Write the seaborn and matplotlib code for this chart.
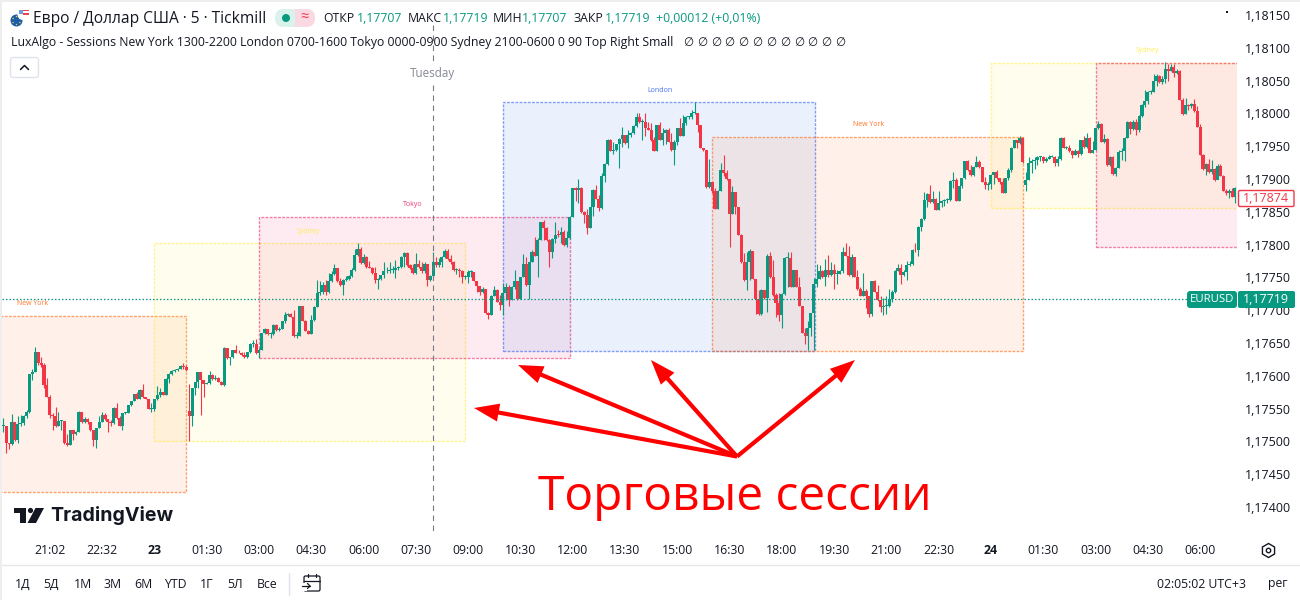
import matplotlib
matplotlib.use('Agg')
import matplotlib.pyplot as plt
from matplotlib.colors import to_rgba
from matplotlib.patches import Circle, FancyBboxPatch, Polygon, Rectangle, RegularPolygon, Wedge
import pandas as pd
import seaborn as sns

# ==========================================
# DATA - EURUSD 5m, prices as points: 17707 = 1,17707
# ==========================================
bar_close = [
    17523, 17497, 17496, 17530, 17502, 17527, 17528, 17538, 17545, 17603,
    17606, 17637, 17619, 17616, 17586, 17568, 17540, 17539, 17523, 17531,
    17531, 17497, 17494, 17518, 17511, 17515, 17545, 17529, 17534, 17529,
    17517, 17502, 17520, 17530, 17541, 17534, 17529, 17528, 17551, 17535,
    17524, 17543, 17544, 17555, 17561, 17572, 17565, 17579, 17567, 17565,
    17549, 17550, 17564, 17570, 17575, 17571, 17595, 17603, 17607, 17609,
    17611, 17615, 17614, 17609, 17539, 17581, 17590, 17606, 17594, 17588,
    17589, 17601, 17595, 17597, 17590, 17586, 17643, 17627, 17628, 17639,
    17635, 17634, 17631, 17628, 17636, 17648, 17648, 17634, 17640, 17665,
    17671, 17663, 17663, 17677, 17670, 17672, 17684, 17693, 17694, 17690,
    17660, 17661, 17706, 17684, 17669, 17664, 17685, 17705, 17726, 17727,
    17738, 17727, 17745, 17755, 17764, 17745, 17738, 17746, 17747, 17752,
    17761, 17784, 17793, 17772, 17781, 17766, 17765, 17756, 17746, 17747,
    17753, 17759, 17760, 17761, 17762, 17764, 17766, 17781, 17787, 17769,
    17764, 17756, 17771, 17766, 17759, 17770, 17746, 17752, 17774, 17769,
    17774, 17781, 17790, 17778, 17774, 17761, 17761, 17760, 17750, 17750,
    17758, 17758, 17745, 17737, 17727, 17733, 17695, 17693, 17722, 17731,
    17713, 17708, 17726, 17736, 17716, 17736, 17744, 17717, 17751, 17771,
    17738, 17773, 17788, 17783, 17807, 17834, 17825, 17807, 17789, 17808,
    17815, 17814, 17819, 17799, 17810, 17842, 17886, 17883, 17887, 17849,
    17845, 17826, 17857, 17883, 17870, 17856, 17904, 17923, 17960, 17943,
    17944, 17953, 17961, 17967, 17955, 17967, 17970, 17981, 17995, 17987,
    17987, 17977, 17975, 17959, 17943, 17982, 17960, 17970, 17974, 17957,
    17944, 17957, 17977, 17966, 17986, 17994, 17994, 18000, 18000, 17982,
    17948, 17944, 17888, 17896, 17882, 17855, 17882, 17914, 17909, 17900,
    17847, 17880, 17857, 17815, 17773, 17746, 17773, 17790, 17748, 17717,
    17694, 17731, 17718, 17782, 17750, 17723, 17711, 17693, 17725, 17779,
    17780, 17736, 17761, 17736, 17707, 17666, 17660, 17673, 17695, 17740,
    17747, 17759, 17750, 17761, 17753, 17761, 17755, 17755, 17759, 17789,
    17783, 17753, 17781, 17751, 17732, 17722, 17729, 17721, 17694, 17745,
    17728, 17715, 17705, 17707, 17707, 17717, 17727, 17760, 17764, 17753,
    17758, 17769, 17770, 17792, 17791, 17827, 17839, 17868, 17877, 17865,
    17870, 17853, 17863, 17866, 17868, 17868, 17897, 17898, 17867, 17889,
    17901, 17927, 17913, 17906, 17919, 17926, 17918, 17896, 17891, 17892,
    17906, 17910, 17901, 17895, 17879, 17901, 17913, 17948, 17959, 17955,
    17963, 17926, 17899, 17925, 17927, 17929, 17933, 17934, 17927, 17931,
    17933, 17934, 17925, 17931, 17963, 17948, 17948, 17942, 17937, 17942,
    17938, 17959, 17949, 17963, 17940, 17944, 17977, 17984, 17957, 17961,
    17921, 17934, 17908, 17917, 17941, 17943, 17963, 17987, 17976, 17987,
    17974, 17996, 18013, 18019, 18033, 18033, 18049, 18057, 18048, 18052,
    18068, 18065, 18071, 18061, 18065, 18021, 17999, 18013, 18012, 18014,
    18003, 17980, 17937, 17915, 17923, 17910, 17915, 17898, 17920, 17905,
    17882, 17879, 17882, 17873, 17887,
]
bar_high = [
    17535, 17523, 17497, 17542, 17530, 17539, 17540, 17540, 17548, 17603,
    17611, 17644, 17637, 17629, 17619, 17596, 17571, 17544, 17552, 17545,
    17532, 17531, 17511, 17518, 17518, 17516, 17546, 17545, 17537, 17535,
    17530, 17517, 17521, 17538, 17545, 17543, 17534, 17533, 17552, 17558,
    17538, 17544, 17545, 17555, 17562, 17572, 17576, 17580, 17588, 17568,
    17565, 17558, 17565, 17585, 17581, 17576, 17596, 17604, 17609, 17610,
    17612, 17616, 17619, 17616, 17588, 17582, 17591, 17606, 17606, 17594,
    17590, 17607, 17603, 17601, 17598, 17592, 17644, 17643, 17629, 17639,
    17647, 17639, 17637, 17637, 17637, 17650, 17654, 17656, 17642, 17666,
    17673, 17672, 17667, 17679, 17679, 17674, 17684, 17698, 17695, 17695,
    17700, 17667, 17707, 17706, 17685, 17670, 17693, 17706, 17746, 17744,
    17743, 17746, 17756, 17759, 17770, 17765, 17749, 17747, 17752, 17753,
    17765, 17794, 17802, 17797, 17786, 17782, 17775, 17766, 17766, 17749,
    17754, 17773, 17766, 17774, 17767, 17777, 17767, 17783, 17788, 17788,
    17771, 17771, 17787, 17777, 17774, 17774, 17770, 17754, 17789, 17781,
    17779, 17782, 17794, 17793, 17784, 17775, 17764, 17764, 17762, 17754,
    17761, 17761, 17758, 17745, 17737, 17735, 17732, 17698, 17723, 17737,
    17732, 17723, 17741, 17741, 17739, 17737, 17761, 17744, 17751, 17786,
    17781, 17774, 17792, 17811, 17810, 17835, 17837, 17827, 17808, 17810,
    17834, 17822, 17827, 17822, 17820, 17843, 17887, 17888, 17900, 17888,
    17851, 17855, 17858, 17884, 17891, 17876, 17909, 17924, 17961, 17961,
    17957, 17954, 17962, 17980, 17967, 17975, 17972, 17982, 18000, 18000,
    17991, 18000, 17987, 17986, 17964, 17983, 17987, 17977, 17976, 17977,
    17970, 17960, 17978, 17993, 17998, 17996, 17996, 18005, 18018, 18000,
    17982, 17948, 17944, 17931, 17896, 17886, 17883, 17925, 17937, 17914,
    17900, 17890, 17880, 17857, 17816, 17787, 17789, 17793, 17790, 17748,
    17731, 17732, 17731, 17786, 17789, 17777, 17726, 17726, 17726, 17781,
    17788, 17788, 17762, 17762, 17751, 17707, 17673, 17683, 17696, 17749,
    17770, 17769, 17761, 17778, 17784, 17774, 17771, 17762, 17761, 17796,
    17802, 17798, 17785, 17781, 17761, 17735, 17756, 17732, 17722, 17745,
    17746, 17738, 17721, 17718, 17721, 17732, 17731, 17761, 17771, 17771,
    17761, 17775, 17775, 17793, 17802, 17828, 17840, 17880, 17879, 17891,
    17882, 17871, 17882, 17868, 17870, 17871, 17898, 17911, 17901, 17890,
    17902, 17928, 17929, 17921, 17920, 17935, 17929, 17919, 17903, 17896,
    17907, 17911, 17914, 17902, 17902, 17902, 17916, 17949, 17960, 17960,
    17965, 17964, 17911, 17934, 17931, 17934, 17935, 17935, 17935, 17933,
    17936, 17936, 17935, 17935, 17964, 17964, 17951, 17952, 17944, 17945,
    17944, 17960, 17965, 17970, 17964, 17958, 17978, 17989, 17986, 17969,
    17962, 17935, 17935, 17918, 17944, 17947, 17964, 17988, 17989, 17990,
    17992, 17997, 18014, 18036, 18034, 18036, 18060, 18060, 18059, 18057,
    18078, 18076, 18076, 18076, 18068, 18066, 18023, 18023, 18015, 18016,
    18022, 18011, 17984, 17938, 17924, 17931, 17929, 17916, 17923, 17923,
    17906, 17885, 17884, 17886, 17888,
]
bar_low = [
    17515, 17482, 17488, 17495, 17500, 17498, 17523, 17525, 17535, 17543,
    17594, 17606, 17617, 17614, 17582, 17567, 17535, 17517, 17522, 17523,
    17517, 17496, 17493, 17494, 17502, 17510, 17515, 17528, 17528, 17527,
    17516, 17493, 17490, 17520, 17529, 17533, 17515, 17524, 17527, 17534,
    17524, 17518, 17542, 17543, 17554, 17561, 17564, 17564, 17566, 17564,
    17549, 17545, 17547, 17563, 17568, 17570, 17570, 17589, 17601, 17606,
    17607, 17610, 17611, 17608, 17501, 17523, 17571, 17582, 17540, 17568,
    17587, 17588, 17594, 17594, 17590, 17586, 17584, 17626, 17617, 17627,
    17635, 17634, 17630, 17627, 17627, 17635, 17644, 17633, 17627, 17639,
    17664, 17662, 17657, 17662, 17669, 17669, 17671, 17681, 17691, 17689,
    17659, 17657, 17660, 17683, 17668, 17663, 17663, 17684, 17705, 17723,
    17725, 17723, 17726, 17743, 17754, 17743, 17737, 17723, 17744, 17746,
    17750, 17760, 17783, 17771, 17771, 17765, 17764, 17755, 17741, 17732,
    17746, 17749, 17757, 17756, 17756, 17749, 17762, 17764, 17766, 17768,
    17763, 17755, 17755, 17765, 17757, 17757, 17737, 17745, 17751, 17766,
    17766, 17766, 17779, 17777, 17771, 17760, 17755, 17751, 17742, 17748,
    17742, 17750, 17744, 17728, 17723, 17726, 17694, 17687, 17693, 17721,
    17712, 17701, 17693, 17716, 17706, 17715, 17733, 17716, 17717, 17750,
    17737, 17717, 17773, 17782, 17751, 17807, 17807, 17806, 17766, 17779,
    17802, 17812, 17802, 17798, 17797, 17809, 17842, 17866, 17863, 17848,
    17833, 17816, 17825, 17843, 17869, 17851, 17855, 17896, 17921, 17942,
    17938, 17943, 17917, 17949, 17954, 17947, 17964, 17969, 17980, 17986,
    17960, 17965, 17974, 17958, 17942, 17943, 17959, 17952, 17954, 17956,
    17943, 17921, 17952, 17965, 17966, 17982, 17991, 17992, 17999, 17971,
    17947, 17943, 17887, 17887, 17878, 17854, 17855, 17881, 17904, 17899,
    17797, 17847, 17846, 17814, 17772, 17745, 17731, 17746, 17747, 17694,
    17693, 17693, 17717, 17698, 17749, 17722, 17690, 17684, 17673, 17723,
    17736, 17735, 17735, 17735, 17706, 17665, 17649, 17640, 17661, 17640,
    17736, 17748, 17749, 17737, 17751, 17752, 17732, 17740, 17755, 17756,
    17782, 17752, 17751, 17750, 17731, 17721, 17721, 17703, 17689, 17691,
    17727, 17714, 17697, 17693, 17694, 17705, 17713, 17726, 17759, 17740,
    17752, 17746, 17768, 17769, 17789, 17783, 17820, 17837, 17858, 17864,
    17864, 17852, 17852, 17857, 17859, 17863, 17867, 17887, 17866, 17866,
    17887, 17900, 17912, 17905, 17905, 17918, 17917, 17895, 17884, 17883,
    17884, 17893, 17900, 17893, 17878, 17878, 17899, 17911, 17947, 17948,
    17954, 17924, 17881, 17898, 17909, 17915, 17921, 17927, 17924, 17926,
    17930, 17933, 17920, 17920, 17929, 17947, 17945, 17941, 17932, 17936,
    17934, 17937, 17948, 17948, 17939, 17939, 17944, 17976, 17956, 17955,
    17920, 17920, 17906, 17904, 17916, 17929, 17928, 17962, 17969, 17975,
    17967, 17972, 17994, 18010, 18015, 18029, 18032, 18041, 18047, 18045,
    18047, 18049, 18064, 18056, 18060, 18020, 17998, 17999, 18005, 18008,
    18002, 17979, 17936, 17914, 17906, 17909, 17908, 17897, 17900, 17904,
    17881, 17876, 17871, 17872, 17863,
]
first_open = 17523
# the two bars that open away from the previous close
gap_bars = [64, 352]
gap_opens = [17546, 17891]

# sessions: bar where each box starts / ends, box top / bottom in points
session_names = ['New York', 'Sydney', 'Tokyo', 'London', 'New York', 'Sydney', '']
session_kinds = ['ny', 'sydney', 'tokyo', 'london', 'ny', 'sydney', 'tokyo']
session_start = [-3, 52, 88, 172, 244, 340, 376]
session_end = [63, 159, 195, 279.5, 351, 427, 427]
session_top = [17691, 17802, 17842, 18017, 17964, 18077, 18077]
session_bottom = [17423, 17501, 17627, 17638, 17638, 17856, 17796]
session_label_bar = [10, 105, 141, 226, 298, 394, 0]
session_colors = {'ny': '#ff5d00', 'london': '#2157f3', 'tokyo': '#e91e63', 'sydney': '#ffeb3b'}

price_ticks = [18150, 18100, 18050, 18000, 17950, 17900, 17850, 17800, 17750,
               17700, 17650, 17600, 17550, 17500, 17450, 17400]
time_labels = ['21:02', '22:32', '23', '01:30', '03:00', '04:30', '06:00', '07:30',
               '09:00', '10:30', '12:00', '13:30', '15:00', '16:30', '18:00', '19:30',
               '21:00', '22:30', '24', '01:30', '03:00', '04:30', '06:00']
time_ticks = [16 + 18 * k for k in range(len(time_labels))]
last_price_line = 17717

range_buttons = ['1Д', '5Д', '1М', '3М', '6М', 'YTD', '1Г', '5Л', 'Все']
range_button_x = [22.5, 51, 83, 112, 143, 175, 207, 235, 267]

GREEN = '#089981'
RED = '#f23645'
INK = '#131722'

# ==========================================
# SETUP
# ==========================================
sns.set_theme(style='white')
plt.rcParams['font.family'] = ['Open Sans', 'DejaVu Sans']

df = pd.DataFrame({'bar': range(len(bar_close)), 'close': bar_close,
                   'high': bar_high, 'low': bar_low})
df['open'] = df['close'].shift(1).fillna(first_open)
df.loc[gap_bars, 'open'] = gap_opens
df['base'] = df[['open', 'close']].min(axis=1)
# a doji still shows as one pixel
df['body'] = (df['close'] - df['open']).abs().clip(lower=1.5)
df['up'] = df['close'] >= df['open']

fig = plt.figure(figsize=(13, 6), dpi=100, facecolor='white')
ax = fig.add_axes([2 / 1300, 1 - 540 / 600, 1235 / 1300, 538 / 600])
ax.set_facecolor('white')

# ==========================================
# SESSION BOXES
# ==========================================
for i, name in enumerate(session_names):
    c = session_colors[session_kinds[i]]
    ax.add_patch(Rectangle((session_start[i], session_bottom[i]),
                           session_end[i] - session_start[i],
                           session_top[i] - session_bottom[i],
                           facecolor=to_rgba(c, 0.085), edgecolor=to_rgba(c, 0.55),
                           linewidth=1.0, linestyle=(0, (2.0, 1.0)), zorder=1))
    if name:
        ax.annotate(name, (session_label_bar[i], session_top[i]), xytext=(0, 8.8),
                    textcoords='offset points', ha='center', va='center',
                    fontsize=5, color=to_rgba(c, 0.85), zorder=2)

# ==========================================
# CANDLES
# ==========================================
for is_up, color in [(True, GREEN), (False, RED)]:
    part = df[df['up'] == is_up]
    ax.vlines(part['bar'], part['low'], part['high'], color=color, linewidth=0.8, zorder=3)
    sns.barplot(data=part, x='bar', y='body', bottom=part['base'].values, native_scale=True,
                color=color, saturation=1, errorbar=None, width=1.05, linewidth=0,
                zorder=3, ax=ax)

ax.axhline(last_price_line, color=GREEN, linewidth=0.9, linestyle=(0, (1.2, 1.6)), zorder=4)

ax.set_xlim(-0.45, 424.7)
ax.set_ylim(17349.7, 18169.8)
ax.set_xlabel('')
ax.set_ylabel('')
ax.set_xticks(time_ticks)
ax.set_xticklabels(time_labels, fontsize=8.8, color=INK)
for tick in ax.get_xticklabels():
    if tick.get_text() in ('23', '24'):
        tick.set_fontweight('bold')
ax.yaxis.tick_right()
ax.set_yticks(price_ticks)
ax.set_yticklabels(['1,' + str(p) for p in price_ticks], fontsize=9, color=INK)
ax.tick_params(axis='both', length=0)
ax.tick_params(axis='x', pad=3)
ax.tick_params(axis='y', pad=6)
sns.despine(ax=ax, left=True, bottom=True, right=True, top=True)

# ==========================================
# INTERFACE AROUND THE CHART (pixel coordinates)
# ==========================================
ov = fig.add_axes([0, 0, 1, 1], facecolor='none')
ov.set_xlim(0, 1300)
ov.set_ylim(600, 0)
ov.axis('off')


def label(x, y, s, size=8.8, color=INK, ha='left', **kw):
    return ov.text(x, y, s, fontsize=size, color=color, ha=ha, va='center', **kw)


# window edge
ov.add_patch(Rectangle((0, 0), 1300, 2, color='#eeeeee', lw=0))
ov.add_patch(Rectangle((0, 0), 2, 600, color='#eeeeee', lw=0))
ov.plot([2, 1300], [564.5, 564.5], color='#e6e8ee', lw=1)
ov.plot([288.5, 288.5], [573, 595], color='#e0e3eb', lw=1)

# symbol icon
ov.add_patch(Circle((16.5, 20.5), 6, color='#1c5fa8', lw=0))
for dx, dy in [(0, -4), (3.4, -2), (3.4, 2), (0, 4), (-3.4, 2), (-3.4, -2)]:
    ov.add_patch(Circle((16.5 + dx, 20.5 + dy), 0.7, color='#f5d33c', lw=0))
ov.add_patch(Wedge((23, 14.5), 5.5, -20, 200, color='#ffffff', lw=0))
ov.add_patch(Rectangle((20, 9.5), 8.5, 1.8, color='#e8434f', lw=0))
ov.add_patch(Rectangle((23, 12.8), 6, 1.8, color='#e8434f', lw=0))
ov.add_patch(Rectangle((19, 10), 4, 4, color='#6d9fe0', lw=0))

label(33, 19, 'Евро / Доллар США · 5 · Tickmill', size=11.2)

# market status pill
ov.add_patch(FancyBboxPatch((275, 9), 36, 18, boxstyle='round,pad=0,rounding_size=8.5',
                            facecolor='#daf2ec', edgecolor='none'))
ov.add_patch(FancyBboxPatch((296, 9), 19, 18, boxstyle='round,pad=0,rounding_size=8.5',
                            facecolor='#fbd9e2', edgecolor='none'))
ov.add_patch(Rectangle((295, 9), 6, 18, color='#fbd9e2', lw=0))
ov.add_patch(Circle((286, 18), 4, color=GREEN, lw=0))
label(304, 18, '≈', size=10.5, color=RED, ha='center')

# OHLC line
for x, s, c in [(323, 'ОТКР', INK), (357, '1,17707', GREEN), (408, 'МАКС', INK),
                (443, '1,17719', GREEN), (493, 'МИН', INK), (522, '1,17707', GREEN),
                (573, 'ЗАКР', INK), (605, '1,17719', GREEN),
                (656, '+0,00012 (+0,01%)', GREEN)]:
    label(x, 19, s, size=8.8, color=c)

label(11, 42.5, 'LuxAlgo - Sessions New York 1300-2200 London 0700-1600 Tokyo 0000-0900 '
      'Sydney 2100-0600 0 90 Top Right Small', size=8.85)
for k in range(12):
    label(688 + 13.85 * k, 42.5, '∅', size=8.4, ha='center', family=['DejaVu Sans'])

# collapse button
ov.add_patch(FancyBboxPatch((10.5, 57.5), 28, 20, boxstyle='round,pad=0,rounding_size=2.5',
                            facecolor='white', edgecolor='#e0e3eb', linewidth=1))
ov.plot([20.5, 24.5, 28.5], [69.5, 65.5, 69.5], color=INK, lw=1.1)
ov.add_patch(Rectangle((1226, 10.5), 2, 2, color=INK, lw=0))

# crosshair
ov.plot([433, 433], [25, 531], color='#787b86', lw=0.8, linestyle=(0, (5, 4)))
label(432.5, 73, 'Tuesday', size=8.4, color='#868993', ha='center',
      bbox=dict(facecolor='white', edgecolor='none', pad=1.5))

# price labels
ov.add_patch(FancyBboxPatch((1187, 291), 50, 17, boxstyle='round,pad=0,rounding_size=3',
                            facecolor=GREEN, edgecolor='none'))
ov.add_patch(FancyBboxPatch((1238, 291), 57, 17, boxstyle='round,pad=0,rounding_size=2',
                            facecolor=GREEN, edgecolor='none'))
label(1212, 299.5, 'EURUSD', size=8.2, color='white', ha='center')
label(1266, 299.5, '1,17719', size=9, color='white', ha='center')
ov.add_patch(FancyBboxPatch((1238.5, 190.5), 55.5, 16, boxstyle='round,pad=0,rounding_size=1.5',
                            facecolor='white', edgecolor=RED, linewidth=1))
label(1266, 198.5, '1,17874', size=9, color=RED, ha='center')

# TradingView logo
ov.add_patch(Polygon([(14, 508), (26, 508), (26, 523), (20, 523), (20, 513), (14, 513)],
                     color=INK, lw=0))
ov.add_patch(Circle((30.5, 510.5), 2.6, color=INK, lw=0))
ov.add_patch(Polygon([(35.5, 508), (44, 508), (36, 523), (27.5, 523)], color=INK, lw=0))
label(50, 515.5, 'TradingView', size=14.1, family=['Inter'], fontweight='bold')

# arrows and caption
for head in [(474, 408), (518, 365), (651, 360), (855, 360)]:
    ov.annotate('', xy=head, xytext=(737, 456.5),
                arrowprops=dict(facecolor='#ff0000', edgecolor='#ff0000', width=3,
                                headwidth=13, headlength=18, shrink=0, linewidth=0))
label(538, 497, 'Торговые сессии', size=34.5, color='#ff0000')

# range buttons and status line
for x, s in zip(range_button_x, range_buttons):
    label(x, 584, s, size=8.8, ha='center')
ov.add_patch(FancyBboxPatch((304, 576), 16, 15, boxstyle='round,pad=0,rounding_size=1.5',
                            facecolor='none', edgecolor=INK, linewidth=0.9))
ov.plot([304, 320], [580.5, 580.5], color=INK, lw=0.9)
ov.plot([308, 308], [574, 577], color=INK, lw=0.9)
ov.plot([316, 316], [574, 577], color=INK, lw=0.9)
ov.add_patch(Rectangle((301, 582.5), 6, 8, color='white', lw=0))
ov.plot([302, 310], [586, 586], color=INK, lw=0.9)
ov.plot([307.5, 310, 307.5], [583.5, 586, 588.5], color=INK, lw=0.9)

label(1157, 584, '02:05:02 UTC+3', size=8.8)
label(1268, 584, 'рег', size=8.8)
ov.add_patch(RegularPolygon((1268.5, 550.5), 6, radius=7, orientation=0, facecolor='none',
                            edgecolor=INK, linewidth=1))
ov.add_patch(Circle((1268.5, 550.5), 2.2, facecolor='none', edgecolor=INK, linewidth=1))

fig.savefig('out.png', dpi=100, facecolor='white')
